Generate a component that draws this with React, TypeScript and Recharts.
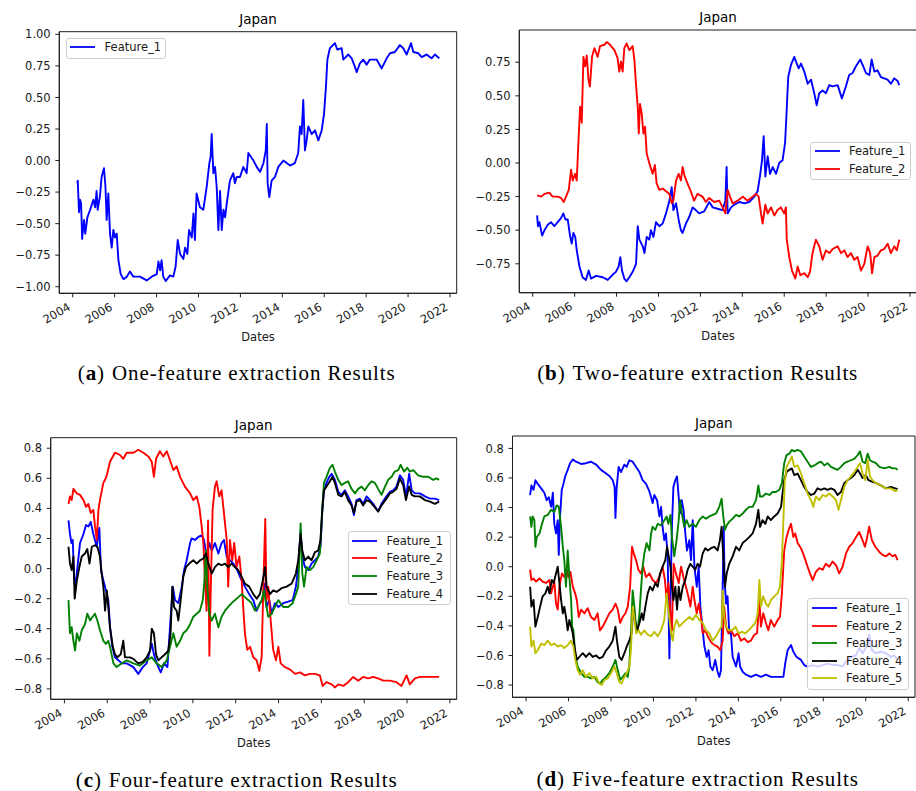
import React from 'react';
import { LineChart, Line, XAxis, YAxis, ReferenceArea } from 'recharts';

type P = [number, number];

const YEAR_TICKS = [2004, 2006, 2008, 2010, 2012, 2014, 2016, 2018, 2020, 2022];
const X_DOMAIN: [number, number] = [2003.36, 2022.32];
const TICKS_A = [-1, -0.75, -0.5, -0.25, 0, 0.25, 0.5, 0.75, 1];
const TICKS_B = [-0.75, -0.5, -0.25, 0, 0.25, 0.5, 0.75];
const TICKS_CD = [-0.8, -0.6, -0.4, -0.2, 0, 0.2, 0.4, 0.6, 0.8];

// (a) one feature
const A_F1: P[] = [[2004.22,-0.18],[2004.24,-0.16],[2004.30,-0.41],[2004.35,-0.31],[2004.40,-0.34],[2004.45,-0.62],[2004.54,-0.47],[2004.60,-0.58],[2004.70,-0.45],[2004.83,-0.39],[2004.99,-0.31],[2005.07,-0.37],[2005.14,-0.24],[2005.19,-0.39],[2005.30,-0.28],[2005.38,-0.13],[2005.49,-0.06],[2005.56,-0.20],[2005.62,-0.47],[2005.70,-0.26],[2005.78,-0.58],[2005.86,-0.69],[2005.94,-0.55],[2006.02,-0.61],[2006.10,-0.58],[2006.18,-0.79],[2006.29,-0.90],[2006.42,-0.94],[2006.58,-0.92],[2006.73,-0.88],[2006.89,-0.92],[2007.21,-0.92],[2007.53,-0.95],[2007.77,-0.92],[2008.01,-0.90],[2008.09,-0.80],[2008.17,-0.87],[2008.24,-0.79],[2008.32,-0.92],[2008.44,-0.955],[2008.64,-0.91],[2008.80,-0.92],[2008.91,-0.84],[2009.01,-0.63],[2009.12,-0.74],[2009.28,-0.78],[2009.36,-0.69],[2009.47,-0.74],[2009.55,-0.55],[2009.68,-0.61],[2009.76,-0.42],[2009.83,-0.63],[2009.91,-0.26],[2010.07,-0.37],[2010.23,-0.39],[2010.39,-0.21],[2010.52,-0.02],[2010.58,0.03],[2010.63,0.21],[2010.71,-0.10],[2010.79,-0.05],[2010.87,-0.21],[2010.95,-0.55],[2011.03,-0.24],[2011.11,-0.55],[2011.19,-0.39],[2011.27,-0.45],[2011.35,-0.34],[2011.50,-0.16],[2011.66,-0.10],[2011.74,-0.18],[2011.82,-0.13],[2011.98,-0.13],[2012.14,-0.05],[2012.30,-0.10],[2012.38,0.06],[2012.62,0.00],[2012.78,-0.05],[2012.94,-0.09],[2013.10,-0.02],[2013.21,0.08],[2013.26,0.29],[2013.30,-0.18],[2013.38,-0.29],[2013.49,-0.16],[2013.65,-0.13],[2013.81,-0.05],[2014.05,0.00],[2014.21,-0.02],[2014.37,-0.04],[2014.60,-0.02],[2014.76,0.06],[2014.84,0.27],[2014.92,0.21],[2015.00,0.48],[2015.08,0.08],[2015.16,0.16],[2015.24,0.27],[2015.40,0.21],[2015.56,0.24],[2015.72,0.16],[2015.88,0.24],[2015.99,0.37],[2016.08,0.58],[2016.15,0.80],[2016.27,0.89],[2016.51,0.93],[2016.62,0.88],[2016.83,0.89],[2016.91,0.80],[2017.15,0.84],[2017.31,0.81],[2017.47,0.74],[2017.55,0.70],[2017.70,0.77],[2017.86,0.80],[2018.02,0.76],[2018.18,0.80],[2018.50,0.80],[2018.74,0.73],[2018.98,0.81],[2019.14,0.85],[2019.37,0.86],[2019.61,0.915],[2019.77,0.89],[2019.93,0.84],[2020.14,0.93],[2020.25,0.86],[2020.49,0.85],[2020.65,0.82],[2020.88,0.84],[2021.12,0.81],[2021.28,0.84],[2021.49,0.81]];

// (b) two features
const B_F1: P[] = [[2004.21,-0.39],[2004.25,-0.47],[2004.32,-0.44],[2004.45,-0.54],[2004.56,-0.50],[2004.72,-0.46],[2004.87,-0.44],[2005.03,-0.47],[2005.19,-0.44],[2005.35,-0.41],[2005.46,-0.375],[2005.56,-0.42],[2005.67,-0.42],[2005.78,-0.54],[2005.86,-0.60],[2005.94,-0.52],[2006.03,-0.55],[2006.10,-0.65],[2006.23,-0.77],[2006.38,-0.85],[2006.54,-0.87],[2006.67,-0.80],[2006.78,-0.86],[2007.02,-0.84],[2007.34,-0.85],[2007.58,-0.87],[2007.82,-0.83],[2007.97,-0.81],[2008.10,-0.77],[2008.18,-0.70],[2008.26,-0.80],[2008.37,-0.86],[2008.48,-0.88],[2008.61,-0.85],[2008.77,-0.81],[2008.93,-0.75],[2009.01,-0.47],[2009.09,-0.57],[2009.25,-0.62],[2009.33,-0.67],[2009.44,-0.55],[2009.56,-0.57],[2009.64,-0.50],[2009.76,-0.55],[2009.88,-0.44],[2010.04,-0.47],[2010.20,-0.45],[2010.36,-0.375],[2010.52,-0.28],[2010.63,-0.18],[2010.71,-0.35],[2010.84,-0.30],[2010.96,-0.42],[2011.07,-0.50],[2011.15,-0.52],[2011.31,-0.45],[2011.47,-0.40],[2011.63,-0.33],[2011.78,-0.35],[2011.94,-0.375],[2012.18,-0.36],[2012.42,-0.29],[2012.59,-0.33],[2012.82,-0.34],[2013.06,-0.35],[2013.19,-0.28],[2013.25,-0.03],[2013.30,-0.375],[2013.46,-0.33],[2013.62,-0.31],[2013.86,-0.29],[2014.10,-0.30],[2014.33,-0.29],[2014.57,-0.25],[2014.73,-0.21],[2014.84,-0.10],[2014.94,0.02],[2015.02,0.20],[2015.10,-0.10],[2015.21,0.05],[2015.32,-0.08],[2015.45,-0.03],[2015.61,-0.08],[2015.76,0.00],[2015.92,0.02],[2016.04,0.15],[2016.11,0.37],[2016.19,0.64],[2016.32,0.73],[2016.48,0.79],[2016.56,0.755],[2016.69,0.705],[2016.80,0.74],[2016.96,0.68],[2017.12,0.59],[2017.28,0.62],[2017.43,0.52],[2017.55,0.43],[2017.67,0.52],[2017.83,0.54],[2017.99,0.52],[2018.15,0.58],[2018.31,0.57],[2018.55,0.58],[2018.75,0.48],[2018.94,0.57],[2019.10,0.655],[2019.26,0.67],[2019.42,0.72],[2019.63,0.77],[2019.74,0.73],[2019.90,0.67],[2020.06,0.655],[2020.17,0.77],[2020.30,0.68],[2020.45,0.69],[2020.61,0.64],[2020.77,0.63],[2020.93,0.62],[2021.09,0.59],[2021.25,0.63],[2021.41,0.61],[2021.49,0.58]];
const B_F2: P[] = [[2004.21,-0.24],[2004.40,-0.25],[2004.56,-0.23],[2004.79,-0.22],[2004.95,-0.25],[2005.19,-0.25],[2005.35,-0.26],[2005.48,-0.29],[2005.59,-0.25],[2005.72,-0.20],[2005.83,-0.05],[2005.91,-0.13],[2006.02,-0.08],[2006.10,-0.13],[2006.18,0.15],[2006.26,0.42],[2006.34,0.30],[2006.42,0.79],[2006.50,0.72],[2006.58,0.80],[2006.66,0.62],[2006.73,0.57],[2006.83,0.79],[2006.94,0.855],[2007.10,0.79],[2007.21,0.87],[2007.42,0.88],[2007.53,0.90],[2007.69,0.88],[2007.90,0.84],[2008.05,0.78],[2008.13,0.68],[2008.21,0.755],[2008.29,0.68],[2008.37,0.855],[2008.48,0.89],[2008.61,0.84],[2008.77,0.87],[2008.85,0.77],[2008.93,0.58],[2009.01,0.42],[2009.06,0.22],[2009.12,0.44],[2009.20,0.37],[2009.28,0.22],[2009.36,0.27],[2009.44,0.07],[2009.56,0.00],[2009.72,-0.08],[2009.83,-0.015],[2009.91,-0.15],[2010.04,-0.20],[2010.20,-0.19],[2010.36,-0.21],[2010.52,-0.23],[2010.63,-0.30],[2010.71,-0.28],[2010.84,-0.13],[2010.96,-0.08],[2011.07,-0.13],[2011.15,-0.03],[2011.25,-0.10],[2011.38,-0.15],[2011.54,-0.21],[2011.70,-0.28],[2011.86,-0.23],[2012.10,-0.25],[2012.26,-0.29],[2012.42,-0.26],[2012.66,-0.29],[2012.90,-0.28],[2013.06,-0.33],[2013.19,-0.375],[2013.30,-0.20],[2013.41,-0.25],[2013.54,-0.30],[2013.78,-0.28],[2014.02,-0.25],[2014.25,-0.28],[2014.49,-0.25],[2014.65,-0.23],[2014.78,-0.25],[2014.89,-0.375],[2014.97,-0.45],[2015.10,-0.31],[2015.21,-0.375],[2015.37,-0.33],[2015.53,-0.39],[2015.68,-0.35],[2015.84,-0.33],[2016.00,-0.375],[2016.08,-0.33],[2016.12,-0.57],[2016.24,-0.70],[2016.37,-0.80],[2016.53,-0.86],[2016.64,-0.77],[2016.77,-0.835],[2016.96,-0.82],[2017.12,-0.85],[2017.23,-0.81],[2017.35,-0.67],[2017.51,-0.57],[2017.67,-0.62],[2017.83,-0.72],[2017.99,-0.65],[2018.15,-0.67],[2018.31,-0.64],[2018.55,-0.62],[2018.71,-0.67],[2018.87,-0.65],[2019.02,-0.70],[2019.18,-0.67],[2019.34,-0.72],[2019.50,-0.70],[2019.66,-0.80],[2019.82,-0.75],[2019.98,-0.62],[2020.10,-0.67],[2020.19,-0.82],[2020.30,-0.70],[2020.45,-0.69],[2020.61,-0.65],[2020.77,-0.64],[2020.93,-0.60],[2021.09,-0.67],[2021.25,-0.62],[2021.37,-0.65],[2021.49,-0.57]];

// (c) four features
const C_F1: P[] = [[2004.19,0.32],[2004.26,0.23],[2004.33,0.17],[2004.39,0.19],[2004.45,-0.055],[2004.51,-0.12],[2004.61,0.01],[2004.73,0.17],[2004.89,0.23],[2005.01,0.29],[2005.12,0.28],[2005.23,0.31],[2005.35,0.23],[2005.51,0.145],[2005.63,0.27],[2005.71,-0.01],[2005.82,-0.08],[2005.94,-0.145],[2006.05,-0.21],[2006.13,-0.39],[2006.24,-0.52],[2006.36,-0.59],[2006.52,-0.61],[2006.68,-0.63],[2006.91,-0.63],[2007.22,-0.655],[2007.45,-0.70],[2007.66,-0.655],[2007.84,-0.63],[2008.08,-0.50],[2008.18,-0.57],[2008.31,-0.63],[2008.50,-0.69],[2008.65,-0.63],[2008.81,-0.655],[2008.93,-0.39],[2009.06,-0.12],[2009.17,-0.21],[2009.32,-0.23],[2009.48,-0.12],[2009.59,-0.01],[2009.71,0.055],[2009.87,0.17],[2009.94,0.20],[2010.10,0.19],[2010.25,0.21],[2010.41,0.22],[2010.52,0.19],[2010.64,0.08],[2010.77,0.17],[2010.88,0.12],[2011.03,0.17],[2011.19,0.10],[2011.34,0.17],[2011.45,0.19],[2011.58,0.08],[2011.73,0.055],[2011.89,0.033],[2012.07,-0.01],[2012.28,-0.08],[2012.43,-0.12],[2012.63,-0.17],[2012.82,-0.21],[2012.98,-0.28],[2013.13,-0.23],[2013.26,-0.21],[2013.37,-0.10],[2013.44,-0.255],[2013.57,-0.21],[2013.68,-0.30],[2013.83,-0.23],[2013.99,-0.255],[2014.22,-0.23],[2014.45,-0.22],[2014.66,-0.21],[2014.81,-0.12],[2014.92,0.01],[2015.03,0.255],[2015.11,0.08],[2015.23,0.01],[2015.39,-0.01],[2015.54,0.033],[2015.70,0.055],[2015.85,0.08],[2015.96,0.145],[2016.04,0.37],[2016.12,0.52],[2016.24,0.57],[2016.37,0.61],[2016.48,0.63],[2016.63,0.59],[2016.79,0.51],[2016.94,0.49],[2017.10,0.52],[2017.25,0.48],[2017.41,0.43],[2017.52,0.355],[2017.64,0.455],[2017.80,0.465],[2017.95,0.43],[2018.11,0.48],[2018.27,0.455],[2018.42,0.43],[2018.65,0.38],[2018.81,0.43],[2019.04,0.48],[2019.20,0.51],[2019.35,0.52],[2019.51,0.545],[2019.67,0.62],[2019.82,0.59],[2019.95,0.48],[2020.10,0.63],[2020.22,0.52],[2020.37,0.50],[2020.60,0.50],[2020.84,0.48],[2021.07,0.465],[2021.30,0.465],[2021.50,0.455]];
const C_F2: P[] = [[2004.19,0.43],[2004.26,0.48],[2004.34,0.455],[2004.42,0.53],[2004.58,0.50],[2004.73,0.49],[2004.89,0.455],[2005.01,0.41],[2005.12,0.43],[2005.23,0.37],[2005.35,0.39],[2005.43,0.28],[2005.51,0.19],[2005.59,0.39],[2005.66,0.455],[2005.82,0.57],[2005.90,0.59],[2005.98,0.62],[2006.13,0.71],[2006.36,0.77],[2006.60,0.755],[2006.75,0.73],[2006.91,0.77],[2007.22,0.77],[2007.45,0.79],[2007.69,0.77],[2007.92,0.745],[2008.08,0.71],[2008.18,0.61],[2008.28,0.73],[2008.46,0.78],[2008.62,0.745],[2008.78,0.78],[2008.93,0.72],[2009.09,0.655],[2009.24,0.68],[2009.40,0.61],[2009.63,0.545],[2009.87,0.50],[2010.02,0.455],[2010.18,0.48],[2010.30,0.41],[2010.41,0.28],[2010.49,0.17],[2010.57,-0.10],[2010.64,-0.28],[2010.71,0.32],[2010.77,-0.58],[2010.83,-0.17],[2010.92,0.39],[2011.03,0.545],[2011.11,0.58],[2011.23,0.48],[2011.34,0.52],[2011.45,0.37],[2011.58,0.19],[2011.65,-0.12],[2011.73,0.19],[2011.84,0.055],[2011.93,0.17],[2012.04,0.01],[2012.17,0.08],[2012.28,-0.08],[2012.35,-0.255],[2012.43,-0.43],[2012.54,-0.54],[2012.67,-0.52],[2012.82,-0.59],[2012.98,-0.61],[2013.10,-0.68],[2013.21,-0.59],[2013.29,-0.12],[2013.38,0.33],[2013.44,-0.21],[2013.52,-0.12],[2013.63,-0.34],[2013.75,-0.54],[2013.88,-0.61],[2013.99,-0.52],[2014.10,-0.63],[2014.30,-0.655],[2014.53,-0.67],[2014.77,-0.70],[2015.00,-0.69],[2015.23,-0.71],[2015.47,-0.70],[2015.70,-0.70],[2015.93,-0.71],[2016.06,-0.78],[2016.24,-0.755],[2016.48,-0.77],[2016.63,-0.79],[2016.79,-0.77],[2017.02,-0.78],[2017.25,-0.755],[2017.49,-0.72],[2017.72,-0.745],[2017.95,-0.72],[2018.19,-0.73],[2018.42,-0.72],[2018.65,-0.73],[2018.89,-0.745],[2019.20,-0.745],[2019.51,-0.755],[2019.74,-0.78],[2019.98,-0.71],[2020.13,-0.77],[2020.37,-0.73],[2020.60,-0.72],[2020.91,-0.72],[2021.22,-0.72],[2021.50,-0.72]];
const C_F3: P[] = [[2004.19,-0.21],[2004.26,-0.43],[2004.34,-0.39],[2004.42,-0.48],[2004.50,-0.545],[2004.58,-0.43],[2004.70,-0.48],[2004.81,-0.41],[2004.96,-0.37],[2005.07,-0.30],[2005.20,-0.345],[2005.32,-0.32],[2005.43,-0.30],[2005.54,-0.345],[2005.66,-0.41],[2005.82,-0.48],[2005.94,-0.50],[2006.05,-0.48],[2006.13,-0.52],[2006.29,-0.63],[2006.44,-0.655],[2006.68,-0.63],[2006.91,-0.61],[2007.22,-0.63],[2007.53,-0.645],[2007.84,-0.61],[2008.08,-0.59],[2008.31,-0.63],[2008.54,-0.655],[2008.78,-0.61],[2008.93,-0.52],[2009.09,-0.43],[2009.24,-0.52],[2009.40,-0.48],[2009.55,-0.43],[2009.71,-0.41],[2009.87,-0.37],[2010.02,-0.32],[2010.18,-0.30],[2010.33,-0.28],[2010.46,-0.21],[2010.53,-0.10],[2010.61,0.12],[2010.67,-0.12],[2010.77,-0.30],[2010.88,-0.345],[2011.03,-0.30],[2011.19,-0.39],[2011.34,-0.32],[2011.50,-0.28],[2011.65,-0.255],[2011.81,-0.23],[2011.96,-0.21],[2012.12,-0.19],[2012.28,-0.17],[2012.43,-0.19],[2012.59,-0.21],[2012.74,-0.23],[2012.90,-0.28],[2013.05,-0.255],[2013.21,-0.21],[2013.32,-0.145],[2013.41,-0.23],[2013.52,-0.32],[2013.68,-0.30],[2013.83,-0.255],[2013.99,-0.21],[2014.22,-0.255],[2014.45,-0.255],[2014.66,-0.23],[2014.81,-0.17],[2014.92,-0.12],[2015.03,0.30],[2015.11,-0.033],[2015.19,-0.12],[2015.31,0.01],[2015.47,-0.01],[2015.62,0.01],[2015.78,0.055],[2015.93,0.10],[2016.04,0.39],[2016.12,0.57],[2016.24,0.61],[2016.40,0.67],[2016.52,0.69],[2016.63,0.645],[2016.79,0.59],[2016.94,0.555],[2017.10,0.57],[2017.25,0.58],[2017.41,0.53],[2017.57,0.50],[2017.72,0.53],[2017.88,0.545],[2018.03,0.52],[2018.19,0.555],[2018.34,0.58],[2018.50,0.57],[2018.65,0.53],[2018.81,0.49],[2018.97,0.545],[2019.12,0.59],[2019.28,0.61],[2019.43,0.645],[2019.59,0.655],[2019.70,0.69],[2019.86,0.645],[2020.01,0.67],[2020.13,0.645],[2020.29,0.655],[2020.52,0.62],[2020.76,0.61],[2020.99,0.61],[2021.22,0.59],[2021.38,0.60],[2021.50,0.59]];
const C_F4: P[] = [[2004.19,0.145],[2004.26,0.033],[2004.34,-0.01],[2004.42,0.08],[2004.48,-0.20],[2004.58,-0.08],[2004.70,0.01],[2004.81,0.08],[2004.96,0.10],[2005.07,0.13],[2005.17,0.033],[2005.28,0.145],[2005.43,0.155],[2005.54,0.145],[2005.66,0.08],[2005.74,-0.033],[2005.82,-0.12],[2005.90,-0.28],[2005.98,-0.145],[2006.05,-0.255],[2006.13,-0.39],[2006.26,-0.52],[2006.36,-0.57],[2006.47,-0.59],[2006.63,-0.57],[2006.75,-0.48],[2006.83,-0.59],[2007.06,-0.59],[2007.22,-0.60],[2007.45,-0.63],[2007.66,-0.62],[2007.84,-0.59],[2008.00,-0.545],[2008.08,-0.40],[2008.18,-0.43],[2008.28,-0.57],[2008.39,-0.61],[2008.54,-0.59],[2008.70,-0.57],[2008.85,-0.545],[2008.96,-0.43],[2009.04,-0.12],[2009.12,-0.255],[2009.24,-0.28],[2009.32,-0.345],[2009.43,-0.21],[2009.55,-0.055],[2009.68,0.01],[2009.83,0.033],[2010.02,0.055],[2010.18,0.033],[2010.33,0.055],[2010.49,0.067],[2010.61,0.10],[2010.72,0.033],[2010.88,-0.033],[2011.03,0.01],[2011.19,0.033],[2011.34,0.022],[2011.50,0.033],[2011.65,0.01],[2011.81,0.033],[2011.96,0.01],[2012.12,-0.01],[2012.28,-0.055],[2012.43,-0.10],[2012.63,-0.12],[2012.82,-0.17],[2012.98,-0.20],[2013.13,-0.17],[2013.26,-0.08],[2013.37,0.01],[2013.44,-0.12],[2013.60,-0.17],[2013.75,-0.145],[2013.91,-0.155],[2014.14,-0.13],[2014.38,-0.12],[2014.61,-0.10],[2014.81,-0.033],[2014.92,0.055],[2015.03,0.23],[2015.11,0.12],[2015.23,0.055],[2015.39,0.08],[2015.54,0.055],[2015.70,0.11],[2015.85,0.12],[2015.96,0.19],[2016.04,0.39],[2016.12,0.52],[2016.24,0.545],[2016.40,0.58],[2016.52,0.61],[2016.63,0.57],[2016.79,0.49],[2016.94,0.48],[2017.10,0.51],[2017.25,0.455],[2017.41,0.42],[2017.52,0.37],[2017.64,0.445],[2017.80,0.455],[2017.95,0.42],[2018.11,0.455],[2018.27,0.445],[2018.42,0.42],[2018.65,0.38],[2018.81,0.42],[2019.04,0.465],[2019.20,0.50],[2019.35,0.51],[2019.51,0.53],[2019.67,0.60],[2019.82,0.555],[2019.95,0.455],[2020.10,0.545],[2020.22,0.49],[2020.37,0.48],[2020.60,0.48],[2020.84,0.455],[2021.07,0.445],[2021.30,0.43],[2021.50,0.445]];

// (d) five features
const D_F1: P[] = [[2004.19,0.485],[2004.25,0.55],[2004.35,0.52],[2004.44,0.585],[2004.55,0.56],[2004.71,0.53],[2004.86,0.50],[2004.97,0.45],[2005.07,0.47],[2005.18,0.405],[2005.26,0.50],[2005.33,0.29],[2005.41,0.225],[2005.49,0.315],[2005.54,0.08],[2005.60,0.34],[2005.68,0.52],[2005.76,0.56],[2005.84,0.61],[2005.96,0.655],[2006.07,0.70],[2006.20,0.725],[2006.35,0.71],[2006.59,0.695],[2006.82,0.70],[2007.06,0.71],[2007.30,0.69],[2007.53,0.655],[2007.77,0.63],[2007.95,0.61],[2008.08,0.585],[2008.17,0.54],[2008.21,0.33],[2008.27,0.54],[2008.36,0.675],[2008.47,0.64],[2008.63,0.69],[2008.74,0.675],[2008.86,0.72],[2009.02,0.71],[2009.18,0.675],[2009.34,0.64],[2009.49,0.585],[2009.65,0.56],[2009.78,0.52],[2009.89,0.47],[2009.96,0.43],[2010.04,0.485],[2010.17,0.45],[2010.28,0.34],[2010.36,0.405],[2010.43,0.27],[2010.51,0.18],[2010.59,0.225],[2010.67,0.07],[2010.75,-0.62],[2010.80,-0.225],[2010.87,0.27],[2010.94,0.54],[2011.03,0.585],[2011.11,0.61],[2011.19,0.47],[2011.25,0.36],[2011.33,0.45],[2011.42,0.38],[2011.50,0.225],[2011.58,0.11],[2011.69,0.18],[2011.77,0.045],[2011.85,0.315],[2011.93,0.0],[2012.04,-0.135],[2012.13,0.0],[2012.21,-0.27],[2012.32,-0.43],[2012.40,-0.54],[2012.51,-0.61],[2012.60,-0.565],[2012.68,-0.675],[2012.79,-0.70],[2012.91,-0.63],[2013.02,-0.71],[2013.10,-0.745],[2013.18,-0.70],[2013.26,-0.135],[2013.31,0.27],[2013.35,-0.09],[2013.42,-0.25],[2013.49,-0.20],[2013.57,-0.45],[2013.65,-0.45],[2013.73,-0.61],[2013.89,-0.675],[2014.01,-0.585],[2014.08,-0.675],[2014.20,-0.71],[2014.36,-0.73],[2014.59,-0.745],[2014.83,-0.73],[2015.06,-0.745],[2015.30,-0.73],[2015.53,-0.745],[2015.77,-0.745],[2016.01,-0.745],[2016.12,-0.745],[2016.21,-0.65],[2016.32,-0.565],[2016.48,-0.53],[2016.59,-0.575],[2016.74,-0.61],[2016.95,-0.63],[2017.10,-0.665],[2017.26,-0.675],[2017.50,-0.665],[2017.73,-0.675],[2017.97,-0.665],[2018.20,-0.655],[2018.44,-0.665],[2018.67,-0.665],[2018.91,-0.675],[2019.07,-0.64],[2019.30,-0.61],[2019.54,-0.60],[2019.69,-0.55],[2019.85,-0.585],[2020.04,-0.54],[2020.16,-0.46],[2020.29,-0.565],[2020.48,-0.585],[2020.71,-0.575],[2020.95,-0.585],[2021.18,-0.61],[2021.34,-0.60],[2021.50,-0.63]];
const D_F2: P[] = [[2004.19,-0.02],[2004.25,-0.09],[2004.35,-0.08],[2004.47,-0.10],[2004.63,-0.08],[2004.78,-0.10],[2004.94,-0.11],[2005.10,-0.09],[2005.18,-0.18],[2005.26,-0.135],[2005.33,-0.10],[2005.41,-0.25],[2005.49,-0.29],[2005.57,-0.135],[2005.69,-0.045],[2005.80,-0.07],[2005.91,-0.02],[2005.99,-0.07],[2006.09,-0.035],[2006.20,-0.135],[2006.31,-0.18],[2006.39,-0.225],[2006.48,-0.34],[2006.59,-0.29],[2006.75,-0.315],[2006.90,-0.28],[2007.06,-0.34],[2007.22,-0.36],[2007.37,-0.315],[2007.48,-0.43],[2007.61,-0.405],[2007.77,-0.36],[2007.92,-0.315],[2008.08,-0.29],[2008.21,-0.25],[2008.32,-0.29],[2008.43,-0.38],[2008.55,-0.34],[2008.68,-0.315],[2008.79,-0.27],[2008.90,-0.135],[2008.99,0.135],[2009.07,0.09],[2009.18,0.045],[2009.29,-0.02],[2009.41,-0.045],[2009.52,0.0],[2009.65,-0.07],[2009.81,-0.045],[2009.96,-0.09],[2010.12,-0.11],[2010.28,-0.07],[2010.43,0.0],[2010.54,-0.09],[2010.62,-0.225],[2010.70,-0.11],[2010.80,-0.315],[2010.87,-0.43],[2010.95,0.02],[2011.06,-0.045],[2011.19,-0.11],[2011.30,0.0],[2011.41,-0.07],[2011.53,-0.135],[2011.64,-0.20],[2011.74,-0.27],[2011.85,-0.135],[2011.93,-0.225],[2012.04,-0.315],[2012.13,-0.25],[2012.24,-0.34],[2012.32,-0.45],[2012.44,-0.43],[2012.56,-0.47],[2012.71,-0.51],[2012.87,-0.53],[2013.02,-0.54],[2013.15,-0.565],[2013.26,-0.50],[2013.33,-0.27],[2013.42,-0.405],[2013.53,-0.45],[2013.65,-0.43],[2013.81,-0.47],[2013.97,-0.45],[2014.12,-0.50],[2014.28,-0.485],[2014.44,-0.51],[2014.59,-0.50],[2014.75,-0.46],[2014.88,-0.45],[2014.99,-0.225],[2015.06,-0.405],[2015.17,-0.315],[2015.30,-0.38],[2015.41,-0.43],[2015.53,-0.36],[2015.69,-0.405],[2015.85,-0.36],[2015.96,-0.34],[2016.05,-0.18],[2016.16,0.11],[2016.27,0.20],[2016.37,0.25],[2016.48,0.29],[2016.59,0.20],[2016.68,0.225],[2016.79,0.16],[2016.95,0.125],[2017.10,0.07],[2017.26,0.0],[2017.37,-0.045],[2017.50,-0.09],[2017.65,-0.035],[2017.81,-0.01],[2017.97,-0.02],[2018.12,0.02],[2018.28,0.0],[2018.44,0.035],[2018.60,0.01],[2018.75,-0.045],[2018.91,0.0],[2019.07,0.09],[2019.22,0.135],[2019.38,0.16],[2019.54,0.20],[2019.69,0.235],[2019.85,0.18],[2019.96,0.135],[2020.04,0.18],[2020.16,0.27],[2020.29,0.18],[2020.45,0.135],[2020.64,0.10],[2020.79,0.08],[2020.95,0.07],[2021.11,0.09],[2021.26,0.07],[2021.39,0.08],[2021.50,0.045]];
const D_F3: P[] = [[2004.19,0.34],[2004.25,0.27],[2004.31,0.34],[2004.39,0.315],[2004.44,0.135],[2004.50,0.20],[2004.63,0.225],[2004.75,0.29],[2004.86,0.34],[2005.02,0.35],[2005.18,0.385],[2005.33,0.37],[2005.44,0.415],[2005.54,0.405],[2005.65,0.27],[2005.73,0.135],[2005.80,0.045],[2005.88,-0.135],[2005.96,0.11],[2006.04,-0.07],[2006.12,-0.225],[2006.17,-0.405],[2006.23,-0.43],[2006.32,-0.61],[2006.43,-0.675],[2006.59,-0.72],[2006.75,-0.745],[2006.90,-0.745],[2007.06,-0.755],[2007.22,-0.745],[2007.37,-0.78],[2007.50,-0.79],[2007.61,-0.765],[2007.77,-0.745],[2007.92,-0.72],[2008.08,-0.675],[2008.21,-0.63],[2008.32,-0.70],[2008.43,-0.765],[2008.55,-0.745],[2008.68,-0.72],[2008.79,-0.745],[2008.86,-0.675],[2008.94,-0.45],[2009.02,-0.16],[2009.10,-0.27],[2009.18,-0.405],[2009.26,-0.43],[2009.34,-0.315],[2009.41,-0.16],[2009.49,0.0],[2009.57,0.09],[2009.68,0.16],[2009.81,0.11],[2009.89,0.225],[2009.96,0.27],[2010.09,0.25],[2010.20,0.29],[2010.36,0.28],[2010.51,0.315],[2010.62,0.34],[2010.70,0.29],[2010.80,0.35],[2010.87,0.20],[2010.98,0.07],[2011.09,0.18],[2011.19,0.315],[2011.25,0.45],[2011.34,0.36],[2011.45,0.27],[2011.56,0.315],[2011.69,0.27],[2011.85,0.29],[2012.00,0.27],[2012.16,0.315],[2012.32,0.34],[2012.47,0.325],[2012.63,0.34],[2012.79,0.35],[2012.95,0.36],[2013.10,0.405],[2013.21,0.46],[2013.29,0.34],[2013.37,0.25],[2013.45,0.28],[2013.57,0.305],[2013.73,0.325],[2013.89,0.35],[2014.04,0.34],[2014.20,0.36],[2014.36,0.385],[2014.51,0.405],[2014.67,0.405],[2014.83,0.45],[2014.94,0.55],[2015.02,0.475],[2015.14,0.475],[2015.30,0.495],[2015.46,0.485],[2015.61,0.505],[2015.77,0.505],[2015.93,0.52],[2016.05,0.565],[2016.16,0.70],[2016.27,0.755],[2016.40,0.765],[2016.52,0.79],[2016.63,0.78],[2016.79,0.79],[2016.95,0.78],[2017.10,0.745],[2017.26,0.71],[2017.42,0.675],[2017.58,0.685],[2017.73,0.70],[2017.89,0.71],[2018.05,0.685],[2018.20,0.70],[2018.36,0.675],[2018.52,0.665],[2018.67,0.655],[2018.83,0.675],[2018.99,0.70],[2019.14,0.71],[2019.30,0.72],[2019.46,0.73],[2019.62,0.755],[2019.73,0.78],[2019.85,0.71],[2019.98,0.70],[2020.09,0.765],[2020.20,0.72],[2020.32,0.71],[2020.48,0.70],[2020.64,0.675],[2020.87,0.665],[2021.11,0.675],[2021.26,0.665],[2021.42,0.665],[2021.50,0.655]];
const D_F4: P[] = [[2004.19,-0.135],[2004.25,-0.27],[2004.35,-0.225],[2004.44,-0.405],[2004.55,-0.34],[2004.66,-0.27],[2004.78,-0.20],[2004.91,-0.18],[2005.02,-0.135],[2005.10,-0.18],[2005.21,-0.09],[2005.30,-0.11],[2005.41,-0.045],[2005.49,0.0],[2005.57,-0.11],[2005.65,-0.225],[2005.73,-0.315],[2005.80,-0.27],[2005.88,-0.34],[2005.96,-0.43],[2006.04,-0.36],[2006.12,-0.405],[2006.20,-0.45],[2006.28,-0.54],[2006.39,-0.63],[2006.51,-0.61],[2006.67,-0.585],[2006.82,-0.61],[2006.98,-0.585],[2007.14,-0.61],[2007.30,-0.60],[2007.45,-0.62],[2007.61,-0.61],[2007.77,-0.565],[2007.92,-0.54],[2008.08,-0.50],[2008.21,-0.405],[2008.28,-0.50],[2008.39,-0.61],[2008.50,-0.63],[2008.63,-0.585],[2008.74,-0.54],[2008.86,-0.50],[2008.97,-0.45],[2009.05,-0.29],[2009.13,-0.36],[2009.23,-0.43],[2009.34,-0.38],[2009.45,-0.315],[2009.52,-0.36],[2009.62,-0.27],[2009.73,-0.18],[2009.84,-0.135],[2009.96,-0.16],[2010.09,-0.11],[2010.20,-0.135],[2010.31,-0.045],[2010.43,0.0],[2010.56,0.045],[2010.64,0.135],[2010.72,0.07],[2010.80,0.0],[2010.87,-0.135],[2010.94,-0.225],[2011.03,-0.135],[2011.11,-0.29],[2011.19,-0.135],[2011.27,-0.225],[2011.38,-0.135],[2011.50,-0.09],[2011.61,-0.02],[2011.74,0.02],[2011.85,0.0],[2011.97,-0.02],[2012.08,0.02],[2012.19,0.0],[2012.32,0.09],[2012.44,0.125],[2012.56,0.11],[2012.71,0.125],[2012.87,0.135],[2013.02,0.11],[2013.13,0.18],[2013.21,0.27],[2013.29,0.07],[2013.37,-0.135],[2013.45,-0.045],[2013.57,0.02],[2013.73,0.07],[2013.89,0.135],[2014.04,0.11],[2014.20,0.16],[2014.36,0.18],[2014.51,0.20],[2014.67,0.225],[2014.83,0.29],[2014.94,0.385],[2015.02,0.27],[2015.14,0.315],[2015.27,0.29],[2015.38,0.34],[2015.53,0.315],[2015.69,0.34],[2015.85,0.36],[2016.01,0.405],[2016.08,0.495],[2016.16,0.585],[2016.27,0.64],[2016.40,0.655],[2016.52,0.665],[2016.63,0.62],[2016.79,0.63],[2016.95,0.585],[2017.10,0.54],[2017.26,0.505],[2017.42,0.485],[2017.58,0.495],[2017.73,0.53],[2017.89,0.52],[2018.05,0.53],[2018.20,0.52],[2018.36,0.53],[2018.52,0.52],[2018.67,0.485],[2018.83,0.505],[2018.99,0.565],[2019.14,0.585],[2019.30,0.60],[2019.46,0.62],[2019.62,0.655],[2019.73,0.63],[2019.85,0.60],[2020.00,0.62],[2020.13,0.585],[2020.29,0.575],[2020.48,0.565],[2020.71,0.55],[2020.95,0.53],[2021.18,0.54],[2021.39,0.53],[2021.50,0.525]];
const D_F5: P[] = [[2004.19,-0.405],[2004.25,-0.54],[2004.35,-0.50],[2004.44,-0.585],[2004.55,-0.565],[2004.71,-0.52],[2004.86,-0.53],[2005.02,-0.50],[2005.18,-0.53],[2005.33,-0.52],[2005.49,-0.54],[2005.65,-0.53],[2005.80,-0.55],[2005.96,-0.53],[2006.12,-0.50],[2006.23,-0.54],[2006.32,-0.63],[2006.43,-0.70],[2006.54,-0.73],[2006.67,-0.70],[2006.82,-0.745],[2006.98,-0.72],[2007.14,-0.755],[2007.30,-0.745],[2007.45,-0.79],[2007.56,-0.80],[2007.69,-0.765],[2007.84,-0.755],[2008.00,-0.72],[2008.16,-0.675],[2008.27,-0.72],[2008.39,-0.78],[2008.50,-0.79],[2008.63,-0.745],[2008.74,-0.72],[2008.86,-0.675],[2008.94,-0.565],[2009.02,-0.27],[2009.10,-0.34],[2009.18,-0.45],[2009.30,-0.43],[2009.41,-0.46],[2009.57,-0.43],[2009.73,-0.46],[2009.89,-0.47],[2010.04,-0.44],[2010.20,-0.47],[2010.36,-0.43],[2010.51,-0.36],[2010.62,-0.18],[2010.72,-0.315],[2010.83,-0.45],[2010.91,-0.50],[2010.98,-0.405],[2011.09,-0.36],[2011.22,-0.405],[2011.38,-0.38],[2011.53,-0.36],[2011.69,-0.34],[2011.85,-0.36],[2012.00,-0.325],[2012.16,-0.36],[2012.32,-0.38],[2012.47,-0.43],[2012.63,-0.45],[2012.79,-0.50],[2012.95,-0.47],[2013.10,-0.43],[2013.21,-0.405],[2013.26,-0.16],[2013.33,-0.34],[2013.42,-0.405],[2013.54,-0.43],[2013.70,-0.43],[2013.86,-0.405],[2014.01,-0.45],[2014.17,-0.44],[2014.33,-0.45],[2014.48,-0.43],[2014.64,-0.405],[2014.80,-0.38],[2014.91,-0.315],[2014.99,-0.09],[2015.06,-0.27],[2015.17,-0.20],[2015.30,-0.25],[2015.41,-0.27],[2015.53,-0.225],[2015.69,-0.20],[2015.85,-0.18],[2015.96,-0.135],[2016.05,0.045],[2016.12,0.315],[2016.18,0.565],[2016.27,0.675],[2016.40,0.71],[2016.52,0.745],[2016.63,0.675],[2016.79,0.685],[2016.95,0.63],[2017.10,0.565],[2017.26,0.495],[2017.42,0.45],[2017.53,0.405],[2017.65,0.475],[2017.81,0.45],[2017.97,0.485],[2018.12,0.475],[2018.28,0.495],[2018.44,0.475],[2018.60,0.45],[2018.72,0.385],[2018.83,0.45],[2018.99,0.54],[2019.14,0.585],[2019.30,0.61],[2019.46,0.64],[2019.62,0.675],[2019.73,0.70],[2019.85,0.63],[2019.98,0.585],[2020.09,0.72],[2020.20,0.61],[2020.32,0.585],[2020.48,0.565],[2020.71,0.55],[2020.95,0.53],[2021.18,0.53],[2021.39,0.51],[2021.50,0.52]];

const BLUE = '#0000ff';
const RED = '#ff0000';
const GREEN = '#008000';
const BLACK = '#000000';
const YELLOW = '#bfbf00';
const AXIS = '#1f1f1f';
const TXT = '#1a1a1a';
const SANS = '"DejaVu Sans", sans-serif';
const SERIF = '"Liberation Serif", serif';
const LINE_W = 1.9;

interface Series { name: string; color: string; data: P[] }
interface Rect { left: number; top: number; right: number; bottom: number }
interface PanelCfg {
  id: string;
  box: { x: number; y: number; w: number; h: number };
  plot: Rect;
  yDomain: [number, number];
  yTicks: number[];
  decimals: number;
  series: Series[];
  legend: { left: number; top: number; width: number };
  caption: { letter: string; text: string; cx: number; cy: number };
}

const PANELS: PanelCfg[] = [
  {
    id: 'a',
    box: { x: 0, y: 0, w: 458, h: 400 },
    plot: { left: 59.3, top: 31.7, right: 456.7, bottom: 293.3 },
    yDomain: [-1.052, 1.021],
    yTicks: TICKS_A,
    decimals: 2,
    series: [{ name: 'Feature_1', color: BLUE, data: A_F1 }],
    legend: { left: 65.7, top: 37.7, width: 100.5 },
    caption: { letter: 'a', text: 'One-feature extraction Results', cx: 236.7, cy: 373.3 },
  },
  {
    id: 'b',
    box: { x: 458, y: 0, w: 460, h: 400 },
    plot: { left: 519.3, top: 30, right: 916.7, bottom: 292.7 },
    yDomain: [-0.965, 0.99],
    yTicks: TICKS_B,
    decimals: 2,
    series: [
      { name: 'Feature_1', color: BLUE, data: B_F1 },
      { name: 'Feature_2', color: RED, data: B_F2 },
    ],
    legend: { left: 810, top: 141.7, width: 101 },
    caption: { letter: 'b', text: 'Two-feature extraction Results', cx: 697.7, cy: 373.3 },
  },
  {
    id: 'c',
    box: { x: 0, y: 400, w: 458, h: 391 },
    plot: { left: 50.7, top: 437.7, right: 456.7, bottom: 699.3 },
    yDomain: [-0.869, 0.87],
    yTicks: TICKS_CD,
    decimals: 1,
    series: [
      { name: 'Feature_1', color: BLUE, data: C_F1 },
      { name: 'Feature_2', color: RED, data: C_F2 },
      { name: 'Feature_3', color: GREEN, data: C_F3 },
      { name: 'Feature_4', color: BLACK, data: C_F4 },
    ],
    legend: { left: 347.7, top: 531, width: 103 },
    caption: { letter: 'c', text: 'Four-feature extraction Results', cx: 236.7, cy: 780 },
  },
  {
    id: 'd',
    box: { x: 458, y: 400, w: 460, h: 391 },
    plot: { left: 512.5, top: 436, right: 915, bottom: 697.3 },
    yDomain: [-0.883, 0.884],
    yTicks: TICKS_CD,
    decimals: 1,
    series: [
      { name: 'Feature_1', color: BLUE, data: D_F1 },
      { name: 'Feature_2', color: RED, data: D_F2 },
      { name: 'Feature_3', color: GREEN, data: D_F3 },
      { name: 'Feature_4', color: BLACK, data: D_F4 },
      { name: 'Feature_5', color: YELLOW, data: D_F5 },
    ],
    legend: { left: 807, top: 598.3, width: 102.3 },
    caption: { letter: 'd', text: 'Five-feature extraction Results', cx: 697.7, cy: 779 },
  },
];

const toRows = (pts: P[]) => pts.map(([t, v]) => ({ t, v }));

const fmt = (dec: number) => (v: number) => {
  const s = Number(v).toFixed(dec);
  return s.startsWith('-') ? '\u2212' + s.slice(1) : s;
};

const YearTick = (props: any) => {
  const { x, y, payload } = props;
  return (
    <text
      transform={`translate(${x - 1.4},${y + 7.6}) rotate(-30)`}
      textAnchor="end"
      fontSize={11.5}
      fontFamily={SANS}
      fill={TXT}
    >
      {payload.value}
    </text>
  );
};

const LegendBox = ({ items, left, top, width }: { items: Series[]; left: number; top: number; width: number }) => (
  <div
    style={{
      position: 'absolute',
      left,
      top,
      width,
      boxSizing: 'border-box',
      background: 'rgba(255,255,255,0.8)',
      border: '1px solid #cfcfcf',
      borderRadius: 3,
      padding: '0 0 1.6px 3.5px',
      fontFamily: SANS,
      fontSize: 11.5,
      color: TXT,
    }}
  >
    {items.map((it) => (
      <div key={it.name} style={{ display: 'flex', alignItems: 'center', height: 17.6, whiteSpace: 'nowrap' }}>
        <svg width={25} height={4} style={{ display: 'block', marginRight: 9.4, flex: 'none' }}>
          <line x1={0} y1={2} x2={25} y2={2} stroke={it.color} strokeWidth={1.8} />
        </svg>
        <span>{it.name}</span>
      </div>
    ))}
  </div>
);

const Panel = ({ cfg }: { cfg: PanelCfg }) => {
  const { box, plot } = cfg;
  const yw = 50;
  const xh = 60;
  const margin = {
    left: plot.left - box.x - yw,
    top: plot.top - box.y,
    right: box.x + box.w - plot.right,
    bottom: box.y + box.h - plot.bottom - xh,
  };
  const cx = (plot.left + plot.right) / 2;
  const center: React.CSSProperties = {
    position: 'absolute',
    transform: 'translate(-50%, -50%)',
    whiteSpace: 'nowrap',
    lineHeight: 1,
  };
  return (
    <>
      <div style={{ position: 'absolute', left: box.x, top: box.y }}>
        <LineChart width={box.w} height={box.h} margin={margin} style={{ fontFamily: SANS }}>
          <XAxis
            type="number"
            dataKey="t"
            domain={X_DOMAIN}
            ticks={YEAR_TICKS}
            interval={0}
            height={xh}
            tickSize={4}
            tickMargin={4.4}
            tick={<YearTick />}
            axisLine={{ stroke: AXIS }}
            tickLine={{ stroke: AXIS }}
            allowDataOverflow
          />
          <YAxis
            type="number"
            domain={cfg.yDomain}
            ticks={cfg.yTicks}
            interval={0}
            width={yw}
            tickSize={4}
            tickMargin={4.6}
            tickFormatter={fmt(cfg.decimals)}
            tick={{ fontSize: 11.5, fill: TXT, fontFamily: SANS }}
            axisLine={{ stroke: AXIS }}
            tickLine={{ stroke: AXIS }}
            allowDataOverflow
          />
          <ReferenceArea
            x1={X_DOMAIN[0]}
            x2={X_DOMAIN[1]}
            y1={cfg.yDomain[0]}
            y2={cfg.yDomain[1]}
            fill="none"
            fillOpacity={0}
            stroke={AXIS}
            strokeWidth={1}
          />
          {cfg.series.map((s) => (
            <Line
              key={s.name}
              data={toRows(s.data)}
              dataKey="v"
              name={s.name}
              type="linear"
              stroke={s.color}
              strokeWidth={LINE_W}
              strokeLinejoin="round"
              dot={false}
              activeDot={false}
              isAnimationActive={false}
            />
          ))}
        </LineChart>
      </div>
      <div style={{ ...center, left: cx, top: plot.top - 11.8, fontFamily: SANS, fontSize: 13.5, color: '#000' }}>Japan</div>
      <div style={{ ...center, left: cx, top: plot.bottom + 44.5, fontFamily: SANS, fontSize: 11.5, color: TXT }}>Dates</div>
      <LegendBox items={cfg.series} left={cfg.legend.left} top={cfg.legend.top} width={cfg.legend.width} />
      <div style={{ ...center, left: cfg.caption.cx, top: cfg.caption.cy, fontFamily: SERIF, fontSize: 21, color: '#000', letterSpacing: 0.9 }}>
        <span>
          (<b>{cfg.caption.letter}</b>)
        </span>
        <span style={{ marginLeft: 7 }}>{cfg.caption.text}</span>
      </div>
    </>
  );
};

export default function App() {
  return (
    <div
      style={{
        position: 'absolute',
        left: 0,
        top: 0,
        width: 916,
        height: 791,
        overflow: 'hidden',
        background: '#ffffff',
      }}
    >
      {PANELS.map((p) => (
        <Panel key={p.id} cfg={p} />
      ))}
    </div>
  );
}
